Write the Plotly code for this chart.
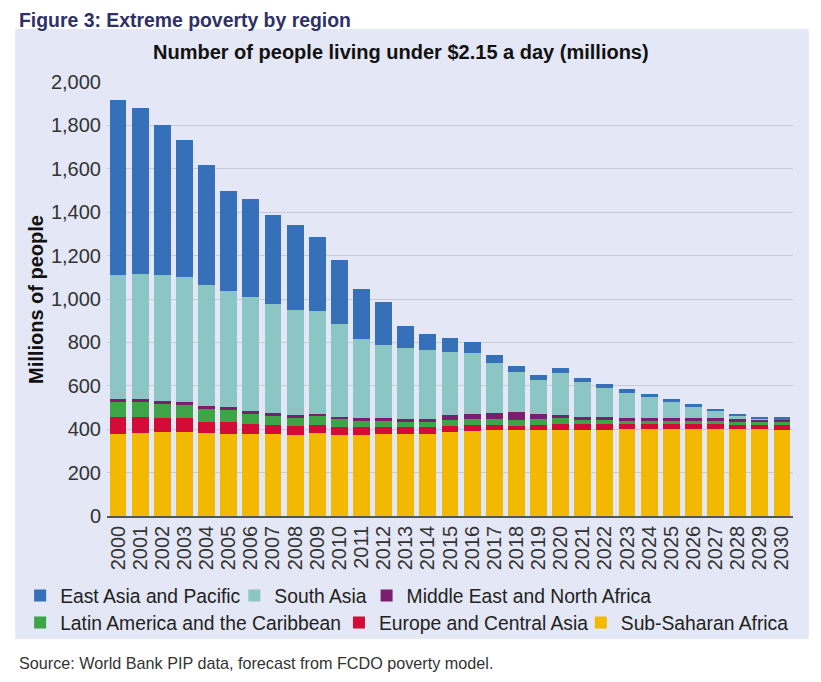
import plotly.graph_objects as go

years = ["2000", "2001", "2002", "2003", "2004", "2005", "2006", "2007", "2008", "2009",
         "2010", "2011", "2012", "2013", "2014", "2015", "2016", "2017", "2018", "2019",
         "2020", "2021", "2022", "2023", "2024", "2025", "2026", "2027", "2028", "2029", "2030"]

sub_saharan_africa = [376, 381, 385, 385, 381, 376, 376, 376, 372, 381,
                      372, 372, 376, 376, 376, 386, 390, 395, 395, 395,
                      395, 395, 395, 399, 399, 399, 399, 399, 399, 399, 395]
europe_central_asia = [79, 74, 65, 65, 51, 56, 47, 42, 41, 37,
                       37, 37, 33, 33, 33, 27, 28, 23, 18, 23,
                       27, 27, 27, 23, 23, 23, 28, 28, 23, 23, 28]
latin_america_caribbean = [74, 69, 65, 65, 65, 60, 50, 46, 42, 41,
                           41, 32, 32, 27, 27, 28, 27, 27, 28, 27,
                           28, 19, 19, 14, 14, 14, 9, 9, 9, 9, 9]
middle_east_north_africa = [9, 14, 14, 9, 9, 9, 9, 9, 9, 10,
                            5, 9, 9, 9, 9, 23, 24, 28, 36, 24,
                            14, 14, 14, 14, 14, 14, 14, 14, 14, 14, 13]
south_asia = [571, 576, 580, 576, 557, 538, 525, 506, 487, 478,
              432, 364, 336, 327, 318, 294, 284, 230, 185, 156,
              193, 161, 137, 119, 101, 78, 55, 36, 18, 4, 1]
east_asia_pacific = [806, 765, 691, 631, 553, 461, 452, 406, 388, 341,
                     295, 230, 198, 102, 78, 60, 51, 41, 31, 27,
                     27, 18, 18, 14, 9, 9, 9, 5, 5, 4, 9]

y_ticks = [0, 200, 400, 600, 800, 1000, 1200, 1400, 1600, 1800, 2000]
y_tick_text = ["0", "200", "400", "600", "800", "1,000", "1,200", "1,400", "1,600", "1,800", "2,000"]

# name, values, colour, legend id, legend item position (window px: left, row centre)
series = [
    ("Sub-Saharan Africa", sub_saharan_africa, "#F2B900", "legend6", 578, 623),
    ("Europe and Central Asia", europe_central_asia, "#D20C36", "legend5", 333, 623),
    ("Latin America and the Caribbean", latin_america_caribbean, "#3DA548", "legend4", 10, 623),
    ("Middle East and North Africa", middle_east_north_africa, "#7A1F6E", "legend3", 361, 596),
    ("South Asia", south_asia, "#8CC6C4", "legend2", 227, 596),
    ("East Asia and Pacific", east_asia_pacific, "#3670B8", "legend", 10, 596),
]

FONT = "Liberation Sans, Arial, Helvetica, sans-serif"
BG = "#E4E7F5"

# page offset of the figure inside the window (default body margin)
OFF_X, OFF_Y = 8, 8
W, H = 821, 682
# plot-area edges in window pixels
L, R, T, B = 98, 793, 82, 516
PW, PH = R - L, B - T


def px(x):
    return (x - L) / PW


def py(y):
    return (B - y) / PH


fig = go.Figure()
legends = {}
for name, vals, color, leg, lx, ly in series:
    fig.add_trace(go.Bar(x=years, y=vals, name=name, marker=dict(color=color, line=dict(width=0)),
                         legend=leg))
    legends[leg] = dict(orientation="h", x=px(lx), xanchor="left", y=py(ly), yanchor="middle",
                        bgcolor="rgba(0,0,0,0)", font=dict(size=19.3, color="#222222"))

fig.update_layout(
    width=W, height=H,
    margin=dict(l=L - OFF_X, r=W - (R - OFF_X), t=T - OFF_Y, b=H - (B - OFF_Y), pad=0),
    showlegend=True,
    barmode="stack",
    bargap=0.24,
    paper_bgcolor="white",
    plot_bgcolor=BG,
    font=dict(family=FONT, size=18, color="#333333"),
    xaxis=dict(type="category", tickmode="linear", dtick=1, tickangle=-90, showgrid=False,
               ticks="", showline=True, linecolor="#555555", linewidth=1.5,
               tickfont=dict(size=20, color="#333333")),
    yaxis=dict(range=[0, 2000], tickvals=y_ticks, ticktext=y_tick_text,
               showgrid=True, gridcolor="#C8CAD6", gridwidth=1.2, zeroline=False,
               ticks="", ticklabelstandoff=5, tickfont=dict(size=20, color="#333333")),
    shapes=[dict(type="rect", xref="paper", yref="paper", x0=px(5), x1=px(809),
                 y0=py(639), y1=py(29), fillcolor=BG, line=dict(width=0), layer="below")],
    annotations=[
        dict(text="<b>Figure 3: Extreme poverty by region</b>", xref="paper", yref="paper",
             x=px(OFF_X), y=py(OFF_Y), xanchor="left", yanchor="top", showarrow=False,
             borderpad=0, font=dict(size=19.4, color="#2D3168")),
        dict(text="<b>Number of people living under $2.15 a day (millions)</b>", xref="paper",
             yref="paper", x=px(396), y=py(52), xanchor="center", yanchor="middle",
             showarrow=False, font=dict(size=20, color="#111111")),
        dict(text="<b>Millions of people</b>", xref="paper", yref="paper", x=px(26), y=py(299),
             xanchor="center", yanchor="middle", textangle=-90, showarrow=False,
             font=dict(size=20, color="#111111")),
        dict(text="Source: World Bank PIP data, forecast from FCDO poverty model.", xref="paper",
             yref="paper", x=px(OFF_X), y=py(663), xanchor="left", yanchor="middle", showarrow=False,
             borderpad=0, font=dict(size=16.2, color="#333333")),
    ],
)
fig.update_layout(**legends)

fig.write_html("out.html")
